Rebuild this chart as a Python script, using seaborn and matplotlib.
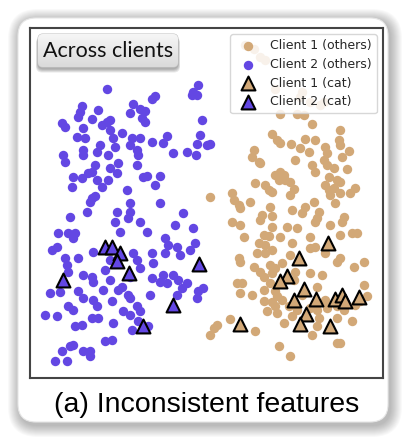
import numpy as np
import pandas as pd
import seaborn as sns
import matplotlib.pyplot as plt
from matplotlib.patches import FancyBboxPatch
from matplotlib.colors import LinearSegmentedColormap

# Client 2 (others) - purple dots
c2_x = [32.0, 59.5, 58.0, 57.5, 59.0, 46.5, 45.5, 24.5, 24.0, 23.5, 29.5, 40.0, 39.0, 42.0, 43.5,
        42.5, 43.5, 27.5, 18.5, 19.5, 30.5, 32.0, 33.0, 25.0, 33.0, 60.5, 36.5, 23.0, 25.5, 34.0,
        39.5, 42.0, 45.5, 50.0, 49.0, 60.0, 59.0, 63.0, 62.0, 56.0, 58.7, 52.0, 39.0, 41.0, 41.5,
        30.0, 29.0, 25.0, 25.0, 19.0, 19.5, 32.5, 34.5, 35.5, 33.0, 28.5, 27.5, 26.5, 22.0, 24.5,
        29.0, 30.5, 32.5, 35.0, 21.5, 41.0, 43.0, 44.0, 48.0, 46.5, 38.0, 27.5, 28.5,
        27.0, 39.0, 48.0, 39.0, 35.0, 26.0, 21.0, 38.5, 42.0, 34.5, 55.0, 52.5, 58.0, 17.5, 20.5,
        22.5, 36.0, 44.0, 22.0, 49.5, 17.0, 15.5, 50.5, 53.0, 58.5, 57.0, 28.0, 45.5, 49.5, 40.0,
        54.0, 19.5, 23.5, 41.0, 46.0, 20.0, 33.0, 31.5, 20.5, 42.0, 25.0, 27.5, 28.0, 33.0, 39.0,
        45.5, 48.0, 50.0, 49.0, 52.0, 53.5, 56.0, 54.5, 59.5, 61.0, 53.0, 59.0, 15.0, 18.0, 23.5,
        31.0, 35.5, 36.5, 38.5, 39.0, 25.0, 28.0, 29.0, 33.5, 41.0, 42.0, 45.0, 20.5, 22.0, 37.0,
        39.0, 13.5, 17.0, 27.5, 29.5, 34.0, 22.5, 24.5, 39.5, 41.5, 44.5, 22.0, 21.0, 18.5, 25.0,
        27.0, 27.0, 31.5, 33.5, 16.5, 20.0]
c2_y = [86.8, 88.0, 86.0, 85.0, 85.0, 84.7, 84.0, 81.7, 80.0, 78.5, 80.5, 82.5, 79.8, 81.0, 80.3,
        78.0, 77.0, 77.8, 76.5, 75.5, 76.0, 77.0, 77.5, 75.0, 74.5, 77.5, 73.7, 72.5, 72.0, 72.0,
        72.0, 72.0, 71.0, 72.8, 70.5, 73.0, 70.3, 70.3, 70.0, 68.0, 67.0, 67.5, 70.0, 68.5, 67.0,
        70.0, 68.0, 68.5, 67.0, 67.0, 65.0, 67.0, 69.3, 64.5, 63.0, 64.0, 62.0, 61.5, 60.5, 60.0,
        59.5, 57.5, 59.5, 61.5, 57.5, 64.0, 60.5, 60.7, 60.7, 58.0, 56.5, 54.0, 54.7,
        53.0, 52.5, 52.5, 50.0, 50.0, 50.0, 48.5, 48.0, 47.0, 47.0, 49.5, 46.0, 45.0, 43.5, 43.5,
        43.5, 43.8, 43.8, 42.0, 42.0, 39.5, 38.5, 40.0, 39.5, 40.5, 38.5, 38.0, 37.5, 37.5, 37.5,
        37.0, 36.0, 36.0, 35.5, 34.5, 34.0, 35.5, 32.5, 32.0, 33.0, 31.0, 30.5, 29.0, 29.5, 30.5,
        30.0, 29.0, 28.5, 31.0, 31.0, 29.5, 28.5, 27.0, 26.0, 27.0, 25.0, 24.0, 25.5, 25.7, 26.0,
        26.5, 26.5, 27.5, 25.0, 24.0, 24.0, 23.5, 21.5, 23.0, 21.5, 20.0, 25.0, 21.5, 20.5, 20.0,
        19.0, 19.0, 18.5, 18.0, 18.0, 16.5, 15.5, 16.0, 14.5, 17.0, 15.5, 10.0, 9.5, 8.0, 8.0,
        8.0, 6.5, 11.0, 11.5, 5.0, 5.0]

# Client 1 (others) - tan dots
c1_x = [73.5, 76.0, 78.0, 79.5, 82.5, 90.0, 90.5, 93.0, 96.0, 97.0,
        84.0, 89.0, 91.0, 93.5, 102.0, 81.5, 83.0, 84.0, 91.5, 94.5, 87.2, 101.5, 102.0, 90.0,
        92.5, 97.5, 98.0, 76.0, 75.5, 77.5, 78.0, 88.5, 102.5, 104.5, 97.0, 98.0, 100.0, 93.5,
        94.5, 104.0, 82.5, 84.0, 85.0, 85.5, 83.5, 87.0, 98.5, 101.0, 102.0, 76.5, 79.5, 80.5,
        81.5, 88.0, 87.0, 97.5, 98.5, 100.0, 99.0, 102.0, 105.0, 106.5, 69.5, 70.0, 71.5, 72.0,
        75.0, 63.0, 81.0, 87.5, 91.5, 94.0, 90.5, 95.5, 95.0, 94.5, 100.5, 103.0, 102.5, 78.5,
        78.0, 81.5, 69.5, 72.0, 73.0, 81.5, 86.0, 89.0, 99.0, 105.5, 107.0, 102.0, 93.0, 79.0,
        80.5, 84.0,
        77.5, 79.5, 87.5, 93.0, 94.5, 81.5, 77.0, 79.5, 87.0, 97.5, 101.0, 102.0, 109.0, 106.0,
        71.5, 72.0, 76.0, 81.0, 82.5, 84.5, 78.0, 79.0, 81.5, 88.5, 93.0, 96.5, 71.0, 72.5,
        81.0, 88.0, 95.0, 109.0, 110.0, 72.0, 75.5, 79.0, 82.5, 83.0, 84.5, 90.5, 97.5, 79.0,
        80.0, 81.5, 82.5, 83.0, 86.5, 89.0, 93.0, 95.0, 98.0, 101.0, 103.0, 106.5, 108.0, 87.5,
        95.5, 101.0, 105.5, 69.0, 65.0, 64.0, 63.0, 76.5, 85.0, 93.5, 101.0, 102.0, 83.5, 87.0,
        95.0]
c1_y = [100.0, 99.0, 96.5, 95.5, 87.0, 84.5, 86.0, 83.0, 82.0, 83.0,
        79.5, 79.3, 79.0, 76.3, 74.5, 73.3, 71.5, 70.5, 71.7, 71.5, 70.2, 71.5, 70.0, 69.0,
        68.0, 69.5, 67.5, 68.5, 66.5, 65.0, 64.5, 65.5, 66.5, 68.3, 65.5, 64.0, 63.0, 64.0,
        62.0, 62.8, 61.0, 62.0, 61.0, 59.5, 59.5, 59.0, 60.5, 59.5, 59.0, 58.5, 58.0, 56.5,
        56.0, 56.7, 55.0, 58.0, 56.5, 57.0, 55.0, 55.5, 55.5, 57.0, 55.5, 53.5, 52.0, 51.0,
        53.0, 54.5, 51.5, 50.5, 51.5, 53.0, 49.5, 50.0, 48.0, 47.0, 52.5, 48.5, 47.0, 49.0,
        47.5, 48.7, 47.0, 46.0, 42.5, 45.5, 45.5, 45.0, 46.0, 43.7, 43.5, 43.0, 42.5, 43.0,
        42.7, 42.5,
        40.5, 40.0, 40.5, 39.0, 39.5, 38.5, 37.5, 37.5, 37.0, 37.5, 35.0, 36.0, 35.0, 33.5,
        36.0, 35.0, 33.5, 34.0, 33.0, 34.5, 32.0, 30.5, 31.5, 32.0, 31.5, 31.0, 28.5, 28.7,
        28.5, 29.5, 27.5, 28.0, 24.5, 25.5, 25.0, 26.5, 26.0, 24.5, 23.5, 25.0, 23.5, 23.0,
        20.0, 22.7, 21.5, 19.5, 21.5, 20.5, 21.0, 20.5, 21.0, 21.5, 20.5, 22.0, 23.0, 18.5,
        18.0, 18.0, 17.0, 17.7, 16.0, 15.0, 13.0, 14.0, 16.5, 13.0, 10.5, 10.5, 9.5, 6.5,
        15.5]

# Client 1 (cat) - tan triangles
c1_cat_x = [98.2, 89.7, 86.0, 83.8, 91.2, 88.0, 94.8, 100.3, 102.5, 103.3, 107.7, 91.7, 89.8, 71.9, 98.8]
c1_cat_y = [40.5, 36.0, 30.7, 29.2, 26.7, 23.5, 23.8, 23.8, 25.0, 23.2, 24.2, 19.2, 16.2, 16.3, 15.5]

# Client 2 (cat) - purple triangles
c2_cat_x = [31.5, 33.7, 36.0, 35.2, 38.8, 19.0, 59.7, 51.8, 43.0]
c2_cat_y = [39.5, 39.5, 37.5, 35.2, 31.5, 29.5, 34.3, 22.0, 15.5]

tan = '#D2A877'
purple = '#6347E3'

df_c1 = pd.DataFrame({'x': c1_x, 'y': c1_y})
df_c2 = pd.DataFrame({'x': c2_x, 'y': c2_y})
df_c1cat = pd.DataFrame({'x': c1_cat_x, 'y': c1_cat_y})
df_c2cat = pd.DataFrame({'x': c2_cat_x, 'y': c2_cat_y})

sns.set_style("white")
fig = plt.figure(figsize=(4.06, 4.41), dpi=100)

# background card with soft shadow (pixel coordinates)
bg = fig.add_axes([0, 0, 1, 1], zorder=0)
bg.set_xlim(0, 406)
bg.set_ylim(441, 0)
bg.axis('off')
for k in range(12, 0, -1):
    bg.add_patch(FancyBboxPatch((18 - k + 2, 18 - k + 3), 370 + 2 * k, 404 + 2 * k,
                                boxstyle="round,pad=0,rounding_size=%d" % (18 + k),
                                fc='black', ec='none', alpha=0.022))
bg.add_patch(FancyBboxPatch((18, 18), 370, 404, boxstyle="round,pad=0,rounding_size=18",
                            fc='white', ec='#e6e6e6', lw=0.8))

ax = fig.add_axes([30 / 406, 63 / 441, 353 / 406, 350 / 441], zorder=1)
sns.scatterplot(data=df_c1, x='x', y='y', color=tan, s=46, linewidth=0, ax=ax, label='Client 1 (others)')
sns.scatterplot(data=df_c2, x='x', y='y', color=purple, s=46, linewidth=0, ax=ax, label='Client 2 (others)')
sns.scatterplot(data=df_c1cat, x='x', y='y', color=tan, marker='^', s=100, edgecolor='black',
                linewidth=1.5, ax=ax, label='Client 1 (cat)')
sns.scatterplot(data=df_c2cat, x='x', y='y', color=purple, marker='^', s=100, edgecolor='black',
                linewidth=1.5, ax=ax, label='Client 2 (cat)')
ax.set_xlim(9.0, 114.8)
ax.set_ylim(0, 105.2)
ax.set_xticks([])
ax.set_yticks([])
ax.set_xlabel('')
ax.set_ylabel('')
for sp in ax.spines.values():
    sp.set_visible(True)
    sp.set_color('#444444')
    sp.set_linewidth(1.5)
leg = ax.legend(loc='upper right', fontsize=9, frameon=True, handletextpad=0.8,
                borderpad=0.4, labelspacing=0.45)
leg.get_frame().set_edgecolor('#d0d0d0')
leg.get_frame().set_alpha(0.85)

# overlay for the label box and caption
ov = fig.add_axes([0, 0, 1, 1], zorder=2)
ov.set_xlim(0, 406)
ov.set_ylim(441, 0)
ov.axis('off')
ov.patch.set_visible(False)
for k in range(4, 0, -1):
    ov.add_patch(FancyBboxPatch((38 - k * 0.5, 34 + 1.5 + k * 0.4), 140 + k, 33 + k * 0.6,
                                boxstyle="round,pad=0,rounding_size=6",
                                fc='black', ec='none', alpha=0.09))
box = FancyBboxPatch((38, 34), 140, 33, boxstyle="round,pad=0,rounding_size=5",
                     fc='#e8e8e8', ec='#c4c4c4', lw=0.8)
ov.add_patch(box)
grad = np.linspace(0, 1, 64).reshape(-1, 1)
im = ov.imshow(grad, cmap=LinearSegmentedColormap.from_list('g', ['#f6f6f6', '#dadada']),
               extent=(38, 178, 67, 34), aspect='auto', zorder=2.5)
im.set_clip_path(box)
ov.set_xlim(0, 406)
ov.set_ylim(441, 0)
ov.text(108, 51, 'Across clients', ha='center', va='center', fontsize=15.5,
        family=['Lato', 'DejaVu Sans'], color='#111111', zorder=3)

ov.text(207, 405, '(a) Inconsistent features', ha='center', va='center', fontsize=20.5,
        family=['Liberation Sans', 'DejaVu Sans'], color='black')

fig.savefig('out.png', dpi=100)
